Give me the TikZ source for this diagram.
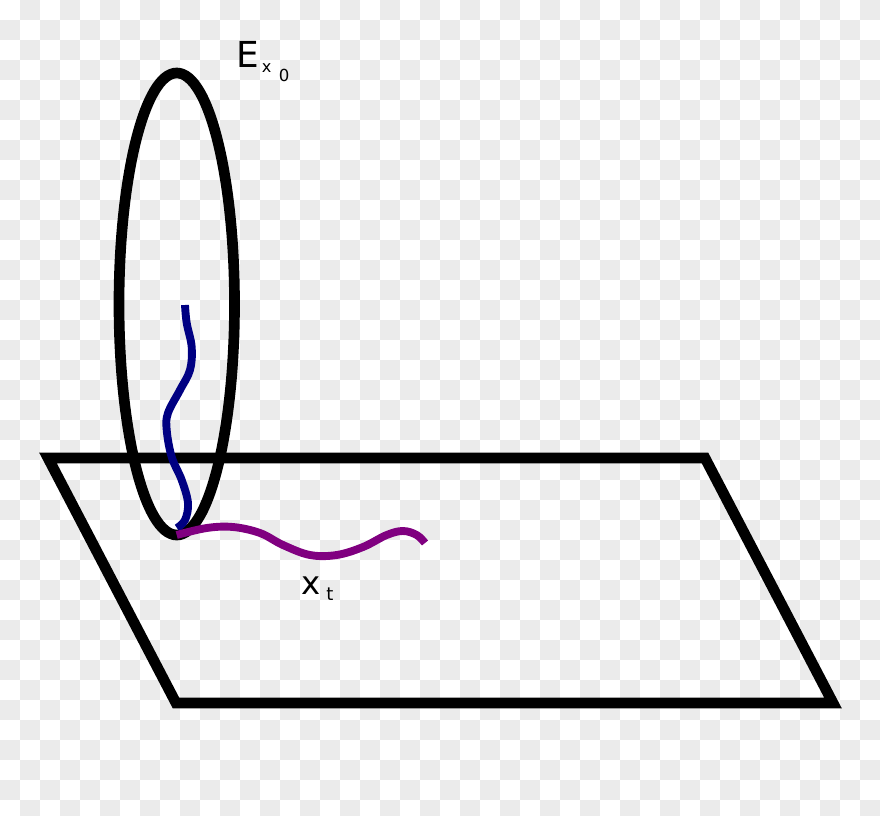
\documentclass[tikz,border=0pt]{standalone}
\usepackage{fontspec}
\setmainfont{DejaVu Sans}
\usepackage{xcolor}
\definecolor{chkgray}{RGB}{235,235,235}
\definecolor{pathblue}{RGB}{0,0,130}
\definecolor{pathpurple}{RGB}{128,0,128}

\begin{document}
\begin{tikzpicture}[
    x=0.025cm, y=-0.025cm,
    outline/.style={draw=black, line width=7.6pt, line join=miter},
    track/.style={line width=5.6pt, smooth, tension=0.6},
    lbl/.style={inner sep=0pt, anchor=base west},
]
% Background
\clip (0,0) rectangle (880,815);
\fill[white] (0,0) rectangle (880,815);
\foreach \j in {0,...,40}{
  \pgfmathtruncatemacro{\off}{mod(\j+1,2)}
  \foreach \i in {0,...,21}{
    \fill[chkgray] ({(2*\i+\off)*20},{\j*20}) rectangle ++(20,20);
  }
}

% Fibre
\draw[outline] (176.75,304) ellipse [x radius=57.75, y radius=231];

% Base plane
\draw[outline] (48,458) -- (705,458) -- (833,703) -- (176,703) -- cycle;

% Paths
\draw[track, draw=pathblue] plot coordinates {(185,305) (186.7,323) (191.7,347) (190,370) (180,390)
  (168,413) (166.7,430) (171.7,457) (181.7,480) (188,503) (185,520) (177,528)};
\draw[track, draw=pathpurple] plot coordinates {(176.7,535) (206.7,528) (233,527) (260,533) (283,545)
  (310,555) (336.7,555) (363,547) (386.7,535) (403,531) (416.7,535) (425,543)};

% Labels
\node[lbl, font=\fontsize{25.5}{30}\selectfont] (e) at (236,67.7) {E};
\node[lbl, font=\fontsize{11.5}{13}\selectfont] (ex) at (261.5,72.7) {x};
\node[lbl, font=\fontsize{11.8}{13}\selectfont] (ezero) at (278.5,81.7) {0};
\node[lbl, font=\fontsize{23}{27}\selectfont] (xx) at (301,594.3) {x};
\node[lbl, font=\fontsize{12.8}{14}\selectfont] (xt) at (326,600) {t};
\end{tikzpicture}
\end{document}
